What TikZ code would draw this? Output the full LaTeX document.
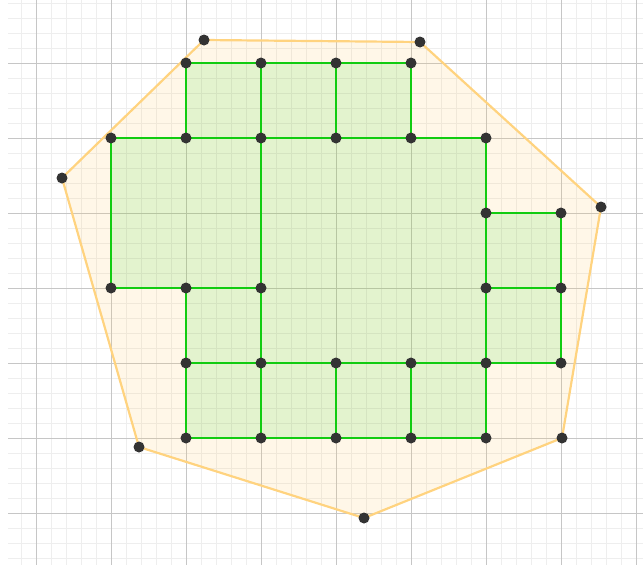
\documentclass[tikz,border=0pt]{standalone}
\usetikzlibrary{calc}
\definecolor{minorgrid}{HTML}{EEEEEE}
\definecolor{majorgrid}{HTML}{C6C6C6}
\definecolor{hullline}{HTML}{FFD37F}
\definecolor{hullfill}{HTML}{FFCC66}
\definecolor{greenline}{HTML}{11CC11}
\definecolor{greenfill}{HTML}{00CC00}
\definecolor{dotcol}{HTML}{333333}
\tikzset{
  minorline/.style={draw=minorgrid, line width=0.9pt},
  majorline/.style={draw=majorgrid, line width=1pt},
  hull/.style={draw=hullline, line width=2.2pt, fill=hullfill, fill opacity=0.15, line join=round},
  greenarea/.style={fill=greenfill, fill opacity=0.11},
  greenedge/.style={draw=greenline, line width=2.8pt},
  dot/.style={circle, fill=dotcol, inner sep=0pt, minimum size=11pt}
}
\begin{document}
\begin{tikzpicture}[x=1pt, y=-1pt]
\useasboundingbox (0,0) rectangle (643,565);
% grid
\foreach \i in {0,...,41} {\draw[minorline] ({21+15*\i},0) -- ({21+15*\i},565);}
\foreach \j in {0,...,37} {\draw[minorline] (8,{3+15*\j}) -- (643,{3+15*\j});}
\foreach \i in {0,...,8} {\draw[majorline] ({36+75*\i},0) -- ({36+75*\i},565);}
\foreach \j in {0,...,6} {\draw[majorline] (8,{63+75*\j}) -- (643,{63+75*\j});}
% hull vertices
\coordinate (h1) at (204,40);
\coordinate (h2) at (420,42);
\coordinate (h3) at (601,207);
\coordinate (h4) at (562,438);
\coordinate (h5) at (364,518);
\coordinate (h6) at (139,447);
\coordinate (h7) at (62,178);
\path[hull] (h1) -- (h2) -- (h3) -- (h4) -- (h5) -- (h6) -- (h7) -- cycle;
% grid points
\foreach \c/\x in {1/111,2/186,3/261,4/336,5/411,6/486,7/561} {
  \foreach \r/\y in {1/63,2/138,3/213,4/288,5/363,6/438} {
    \coordinate (p\c\r) at (\x,\y);
  }
}
% green area
\fill[greenarea] (p21) -- (p51) -- (p52) -- (p62) -- (p63) -- (p73) -- (p75) -- (p65) -- (p66) -- (p26) -- (p24) -- (p14) -- (p12) -- (p22) -- cycle;
% green edges
\draw[greenedge] (p21) -- (p51) -- (p52) -- (p62) -- (p63) -- (p73) -- (p75) -- (p65) -- (p66) -- (p26) -- (p24) -- (p14) -- (p12) -- (p22) -- cycle;
\draw[greenedge] (p12) -- (p62);
\draw[greenedge] (p31) -- (p36);
\draw[greenedge] (p41) -- (p42);
\draw[greenedge] (p24) -- (p34);
\draw[greenedge] (p25) -- (p75);
\draw[greenedge] (p64) -- (p74);
\draw[greenedge] (p62) -- (p65);
\draw[greenedge] (p45) -- (p46);
\draw[greenedge] (p55) -- (p56);
% dots
\foreach \n in {h1,h2,h3,h4,h5,h6,h7,
  p21,p31,p41,p51,
  p12,p22,p32,p42,p52,p62,
  p63,p73,
  p14,p24,p34,p64,p74,
  p25,p35,p45,p55,p65,p75,
  p26,p36,p46,p56,p66} {
  \node[dot] (d\n) at (\n) {};
}
\end{tikzpicture}
\end{document}
